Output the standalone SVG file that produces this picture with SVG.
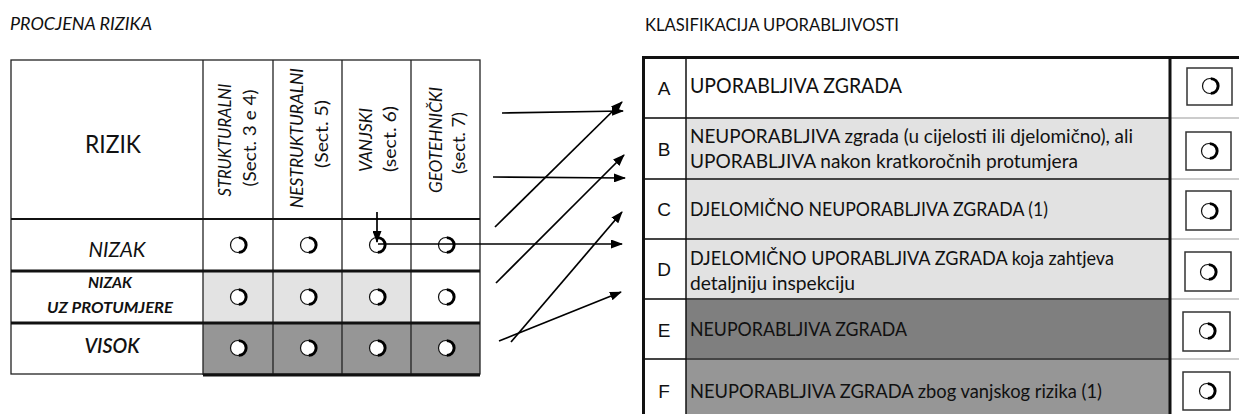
<svg xmlns="http://www.w3.org/2000/svg" width="1239" height="414" viewBox="0 0 1239 414">
<defs>
<style>
.t{font-family:Lato,"Open Sans","Liberation Sans",sans-serif;fill:#111}
.it{font-style:italic}
.hd{font-size:17.5px}
.row{font-size:18.5px}
.let{font-family:"Liberation Sans",Arial,sans-serif;font-size:19px;fill:#111}
.thin{stroke:#222;stroke-width:1.3;fill:none}
.thk{stroke:#111;stroke-width:3;fill:none}
.sep{stroke:#444;stroke-width:2}
.conn{stroke:#000;stroke-width:1.7;fill:none}
.box{fill:#fff;stroke:#333;stroke-width:1.5}
</style>
<g id="ring">
<circle cx="0" cy="0" r="7.5" fill="#fff" stroke="#111" stroke-width="1.2"/>
<path d="M0.8,-7.4 A7.4,7.4 0 0 1 0.8,7.4" fill="none" stroke="#000" stroke-width="2.8"/>
</g>
<marker id="ah" markerWidth="12" markerHeight="9" refX="11" refY="4.5" orient="auto" markerUnits="userSpaceOnUse">
<path d="M0,0 L12,4.5 L0,9 Z" fill="#000"/>
</marker>
</defs>
<rect width="1239" height="414" fill="#fff"/>

<g id="titles">
<text class="t it" x="10" y="30" font-size="18" textLength="142" lengthAdjust="spacingAndGlyphs">PROCJENA RIZIKA</text>
<text class="t" x="645" y="31" font-size="18" textLength="254" lengthAdjust="spacingAndGlyphs">KLASIFIKACIJA UPORABLJIVOSTI</text>
</g>

<g id="risk-table">
<rect x="203" y="271" width="208" height="52" fill="#e3e3e3"/>
<rect x="203" y="323" width="277" height="51" fill="#969696"/>
<rect x="11" y="60" width="469" height="314" class="thin"/>
<line x1="203" y1="60" x2="203" y2="375" class="thin"/>
<line x1="273" y1="60" x2="273" y2="375" class="thin"/>
<line x1="342" y1="60" x2="342" y2="375" class="thin"/>
<line x1="411" y1="60" x2="411" y2="375" class="thin"/>
<line x1="11" y1="219" x2="480" y2="219" stroke="#111" stroke-width="2"/>
<line x1="11" y1="271" x2="480" y2="271" class="thk"/>
<line x1="11" y1="323" x2="480" y2="323" class="thk"/>
<line x1="203" y1="375" x2="480" y2="375" class="thk"/>
<text class="t" x="113" y="153" font-size="25" text-anchor="middle" textLength="56" lengthAdjust="spacingAndGlyphs">RIZIK</text>
<g class="t hd">
<text class="it" transform="translate(225,140) rotate(-90)" y="6" text-anchor="middle" textLength="113" lengthAdjust="spacingAndGlyphs">STRUKTURALNI</text>
<text transform="translate(250,138) rotate(-90)" y="6" text-anchor="middle" textLength="97" lengthAdjust="spacingAndGlyphs">(Sect. 3 e 4)</text>
<text class="it" transform="translate(297,138) rotate(-90)" y="6" text-anchor="middle" textLength="140" lengthAdjust="spacingAndGlyphs">NESTRUKTURALNI</text>
<text transform="translate(322,134) rotate(-90)" y="6" text-anchor="middle" textLength="68" lengthAdjust="spacingAndGlyphs">(Sect. 5)</text>
<text class="it" transform="translate(366,140) rotate(-90)" y="6" text-anchor="middle" textLength="64" lengthAdjust="spacingAndGlyphs">VANJSKI</text>
<text transform="translate(390,139) rotate(-90)" y="6" text-anchor="middle" textLength="66" lengthAdjust="spacingAndGlyphs">(sect. 6)</text>
<text class="it" transform="translate(436,140) rotate(-90)" y="6" text-anchor="middle" textLength="106" lengthAdjust="spacingAndGlyphs">GEOTEHNIČKI</text>
<text transform="translate(459,143) rotate(-90)" y="6" text-anchor="middle" textLength="62" lengthAdjust="spacingAndGlyphs">(sect. 7)</text>
</g>
<text class="t it" x="117" y="257" font-size="21" text-anchor="middle" textLength="57" lengthAdjust="spacingAndGlyphs">NIZAK</text>
<text class="t it" x="110" y="288" font-size="15" font-weight="700" text-anchor="middle" textLength="44" lengthAdjust="spacingAndGlyphs">NIZAK</text>
<text class="t it" x="110" y="313" font-size="15" font-weight="700" text-anchor="middle" textLength="126" lengthAdjust="spacingAndGlyphs">UZ PROTUMJERE</text>
<text class="t it" x="112" y="353" font-size="21" font-weight="600" text-anchor="middle" textLength="55" lengthAdjust="spacingAndGlyphs">VISOK</text>
<use href="#ring" x="238" y="245"/>
<use href="#ring" x="308" y="245"/>
<use href="#ring" x="377" y="245"/>
<use href="#ring" x="446" y="245"/>
<use href="#ring" x="238" y="297"/>
<use href="#ring" x="308" y="297"/>
<use href="#ring" x="377" y="297"/>
<use href="#ring" x="446" y="297"/>
<use href="#ring" x="238" y="348"/>
<use href="#ring" x="308" y="348"/>
<use href="#ring" x="377" y="348"/>
<use href="#ring" x="446" y="348"/>
</g>

<g id="class-table">
<rect x="686" y="118" width="484" height="181" fill="#e2e2e2"/>
<rect x="686" y="299" width="484" height="60" fill="#7f7f7f"/>
<rect x="686" y="359" width="484" height="55" fill="#969696"/>
<line x1="643" y1="118" x2="1170" y2="118" class="sep"/>
<line x1="643" y1="179" x2="1170" y2="179" class="sep"/>
<line x1="643" y1="239" x2="1170" y2="239" class="sep"/>
<line x1="643" y1="299" x2="1170" y2="299" class="sep"/>
<line x1="643" y1="359" x2="1170" y2="359" class="sep"/>
<line x1="1170" y1="118" x2="1239" y2="118" stroke="#999" stroke-width="1"/>
<line x1="1170" y1="179" x2="1239" y2="179" stroke="#999" stroke-width="1"/>
<line x1="1170" y1="239" x2="1239" y2="239" stroke="#999" stroke-width="1"/>
<line x1="1170" y1="299" x2="1239" y2="299" stroke="#999" stroke-width="1"/>
<line x1="1170" y1="359" x2="1239" y2="359" stroke="#999" stroke-width="1"/>
<line x1="686" y1="57" x2="686" y2="414" stroke="#111" stroke-width="1.5"/>
<line x1="643" y1="57.5" x2="1239" y2="57.5" class="thk"/>
<line x1="643.5" y1="56" x2="643.5" y2="414" class="thk"/>
<line x1="1170" y1="56" x2="1170" y2="414" class="thk"/>
</g>

<g id="row-A">
<text class="let" x="664" y="95" text-anchor="middle">A</text>
<text class="t" x="690" y="93" font-size="20.5" textLength="212" lengthAdjust="spacingAndGlyphs">UPORABLJIVA ZGRADA</text>
<rect class="box" x="1187" y="68" width="45" height="37"/>
<use href="#ring" x="1210" y="86"/>
</g>
<g id="row-B">
<text class="let" x="664" y="156" text-anchor="middle">B</text>
<text class="t row" x="690" y="143" textLength="443" lengthAdjust="spacingAndGlyphs">NEUPORABLJIVA zgrada (u cijelosti ili djelomično), ali</text>
<text class="t row" x="690" y="168" textLength="388" lengthAdjust="spacingAndGlyphs">UPORABLJIVA nakon kratkoročnih protumjera</text>
<rect class="box" x="1186" y="132" width="45" height="38"/>
<use href="#ring" x="1209" y="151"/>
</g>
<g id="row-C">
<text class="let" x="664" y="216" text-anchor="middle">C</text>
<text class="t row" x="690" y="216" textLength="358" lengthAdjust="spacingAndGlyphs">DJELOMIČNO NEUPORABLJIVA ZGRADA (1)</text>
<rect class="box" x="1186" y="191" width="45" height="39"/>
<use href="#ring" x="1209" y="211"/>
</g>
<g id="row-D">
<text class="let" x="664" y="276" text-anchor="middle">D</text>
<text class="t row" x="690" y="265" textLength="424" lengthAdjust="spacingAndGlyphs">DJELOMIČNO UPORABLJIVA ZGRADA koja zahtjeva</text>
<text class="t row" x="690" y="290" textLength="165" lengthAdjust="spacingAndGlyphs">detaljniju inspekciju</text>
<rect class="box" x="1185" y="252" width="46" height="39"/>
<use href="#ring" x="1208" y="272"/>
</g>
<g id="row-E">
<text class="let" x="664" y="337" text-anchor="middle">E</text>
<text class="t row" x="690" y="336" textLength="217" lengthAdjust="spacingAndGlyphs">NEUPORABLJIVA ZGRADA</text>
<rect class="box" x="1183" y="312" width="47" height="39"/>
<use href="#ring" x="1207" y="331"/>
</g>
<g id="row-F">
<text class="let" x="664" y="398" text-anchor="middle">F</text>
<text class="t row" x="690" y="398" textLength="412" lengthAdjust="spacingAndGlyphs">NEUPORABLJIVA ZGRADA zbog vanjskog rizika (1)</text>
<rect class="box" x="1183" y="372" width="47" height="38"/>
<use href="#ring" x="1207" y="391"/>
</g>

<g id="connectors">
<line class="conn" x1="377" y1="212" x2="377" y2="242" marker-end="url(#ah)"/>
<line class="conn" x1="378" y1="244" x2="622" y2="244" marker-end="url(#ah)"/>
<line class="conn" x1="502" y1="113" x2="623" y2="111" marker-end="url(#ah)"/>
<line class="conn" x1="495" y1="227" x2="622" y2="102" marker-end="url(#ah)"/>
<line class="conn" x1="493" y1="177" x2="625" y2="178" marker-end="url(#ah)"/>
<line class="conn" x1="496" y1="283" x2="624" y2="155" marker-end="url(#ah)"/>
<line class="conn" x1="511" y1="342" x2="622" y2="212" marker-end="url(#ah)"/>
<line class="conn" x1="499" y1="341" x2="621" y2="292" marker-end="url(#ah)"/>
</g>
</svg>
